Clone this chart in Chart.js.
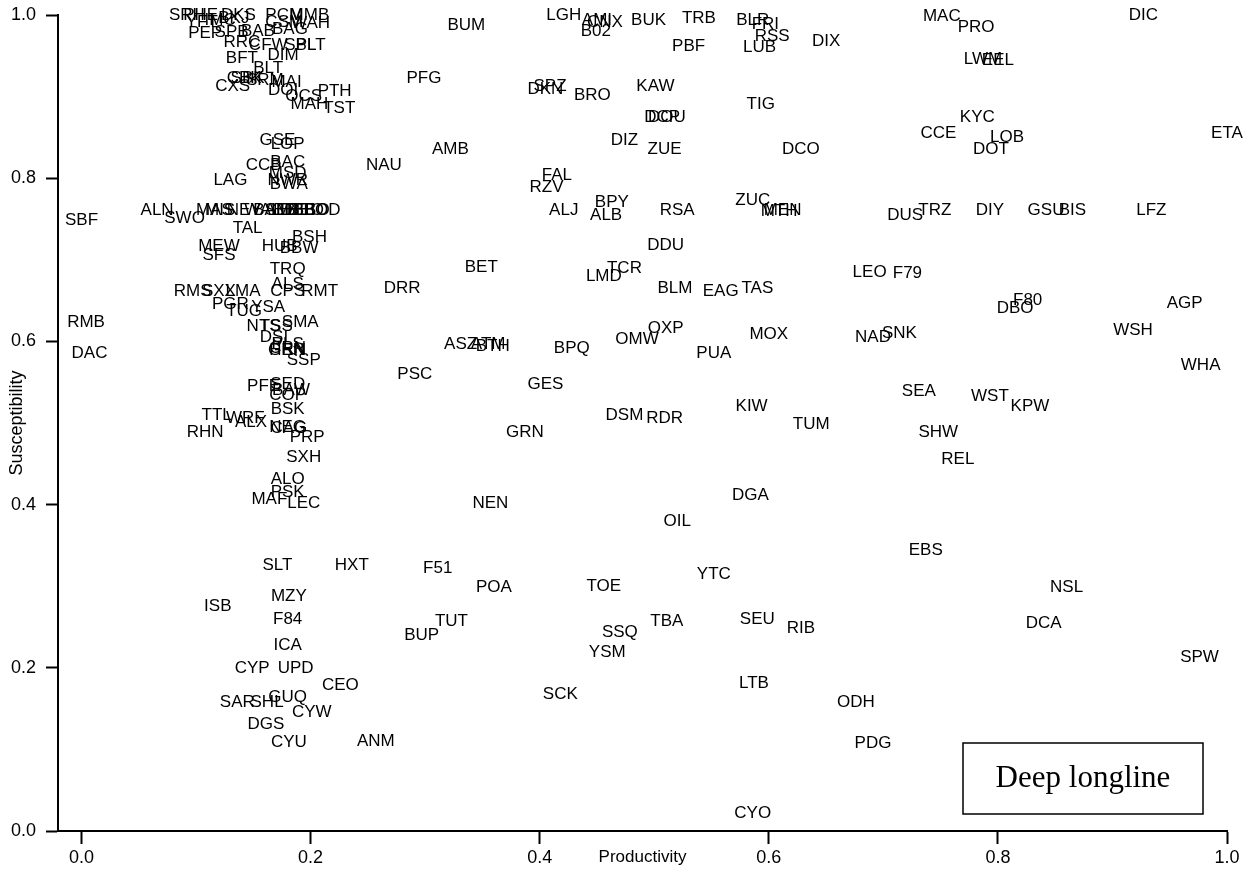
<!DOCTYPE html>
<html>
<head>
<meta charset="utf-8">
<script src="https://cdn.jsdelivr.net/npm/chart.js@4.4.1/dist/chart.umd.min.js"></script>
<style>
  html, body { margin: 0; padding: 0; background: #fff; }
  #wrap { width: 1246px; height: 880px; }
</style>
</head>
<body>
<div id="wrap"><canvas id="psa" width="1246" height="880"></canvas></div>
<script>
// stock codes, productivity (x) and susceptibility (y) - same order in all three
const stockCodes = [
    "SRH", "PHE", "DKS", "PCM", "MMB", "YFT", "IMC", "BKJ", "CSM", "WAH",
    "PEP", "SPB", "BAB", "BAG", "RRC", "CFW", "SBL", "PLT", "BFT", "DIM",
    "BLT", "CBK", "SBK", "SRM", "MAI", "CXS", "DOI", "OCS", "PTH", "MAH",
    "TST", "GSE", "LOP", "CCB", "BAC", "MSD", "NWR", "BWA", "LAG", "ALN",
    "SWO", "MAS", "MIS", "NEY", "WAL", "BAM", "SEB", "BBE", "DBE", "BEO",
    "EBO", "BOD", "TAL", "BSH", "MEW", "HUB", "BBW", "SFS", "SBF", "TRQ",
    "ALS", "RMS", "SXX", "LMA", "CPS", "RMT", "PGR", "YSA", "TUG", "SMA",
    "NTS", "TSS", "DSI", "PLS", "GEN", "HRN", "CRN", "SSP", "RMB", "DAC",
    "PFE", "SED", "BAW", "COP", "BSK", "TTL", "WRF", "ALX", "RHN", "NEG",
    "CAG", "PRP", "SXH", "ALO", "PSK", "MAF", "LEC", "SLT", "HXT", "F51",
    "POA", "TOE", "YTC", "MZY", "ISB", "F84", "TUT", "BUP", "TBA", "SSQ",
    "YSM", "ICA", "CYP", "UPD", "CEO", "SCK", "GUQ", "SAR", "SHL", "CYW",
    "DGS", "CYU", "ANM", "LGH", "AMI", "CNX", "B02", "BUK", "TRB", "BLR",
    "FRI", "RSS", "LUB", "PBF", "DIX", "MAC", "PRO", "DIC", "LWM", "EEL",
    "BUM", "PFG", "DKN", "SPZ", "BRO", "KAW", "TIG", "DCP", "DOU", "KYC",
    "CCE", "LOB", "DOT", "ETA", "DIZ", "ZUE", "DCO", "AMB", "NAU", "FAL",
    "RZV", "BPY", "ALJ", "ALB", "RSA", "ZUC", "MEN", "MTH", "DUS", "TRZ",
    "DIY", "GSU", "BIS", "LFZ", "DDU", "BET", "TCR", "LMD", "DRR", "BLM",
    "EAG", "TAS", "LEO", "F79", "OXP", "OMW", "MOX", "ASZ", "ATM", "BTH",
    "BPQ", "PUA", "PSC", "GES", "KIW", "DSM", "RDR", "GRN", "TUM", "NAD",
    "SNK", "F80", "DBO", "AGP", "WSH", "WHA", "SEA", "WST", "KPW", "SHW",
    "REL", "DGA", "OIL", "NEN", "EBS", "NSL", "DCA", "SPW", "CYO", "PDG",
    "ODH", "LTB", "RIB", "SEU"
];

const productivity = [
    0.092, 0.104, 0.137, 0.177, 0.199, 0.105, 0.121, 0.133, 0.177, 0.200,
    0.108, 0.131, 0.154, 0.182, 0.140, 0.163, 0.191, 0.200, 0.140, 0.176,
    0.163, 0.142, 0.145, 0.160, 0.179, 0.132, 0.176, 0.194, 0.221, 0.199,
    0.225, 0.171, 0.180, 0.159, 0.180, 0.180, 0.180, 0.181, 0.130, 0.066,
    0.090, 0.116, 0.121, 0.142, 0.158, 0.166, 0.175, 0.182, 0.189, 0.196,
    0.201, 0.210, 0.145, 0.199, 0.120, 0.173, 0.190, 0.120, 0.000, 0.180,
    0.180, 0.097, 0.120, 0.141, 0.180, 0.208, 0.130, 0.163, 0.142, 0.191,
    0.159, 0.170, 0.168, 0.180, 0.179, 0.180, 0.180, 0.194, 0.004, 0.007,
    0.159, 0.180, 0.183, 0.180, 0.180, 0.118, 0.143, 0.148, 0.108, 0.180,
    0.181, 0.197, 0.194, 0.180, 0.180, 0.164, 0.194, 0.171, 0.236, 0.311,
    0.360, 0.456, 0.552, 0.181, 0.119, 0.180, 0.323, 0.297, 0.511, 0.470,
    0.459, 0.180, 0.149, 0.187, 0.226, 0.418, 0.180, 0.136, 0.162, 0.201,
    0.161, 0.181, 0.257, 0.421, 0.450, 0.457, 0.449, 0.495, 0.539, 0.586,
    0.597, 0.603, 0.592, 0.530, 0.650, 0.751, 0.781, 0.927, 0.787, 0.800,
    0.336, 0.299, 0.405, 0.409, 0.446, 0.501, 0.593, 0.507, 0.511, 0.782,
    0.748, 0.808, 0.794, 1.000, 0.474, 0.509, 0.628, 0.322, 0.264, 0.415,
    0.406, 0.463, 0.421, 0.458, 0.520, 0.586, 0.612, 0.609, 0.719, 0.745,
    0.793, 0.842, 0.865, 0.934, 0.510, 0.349, 0.474, 0.456, 0.280, 0.518,
    0.558, 0.590, 0.688, 0.721, 0.510, 0.485, 0.600, 0.331, 0.355, 0.359,
    0.428, 0.552, 0.291, 0.405, 0.585, 0.474, 0.509, 0.387, 0.637, 0.691,
    0.714, 0.826, 0.815, 0.963, 0.918, 0.977, 0.731, 0.793, 0.828, 0.748,
    0.765, 0.584, 0.520, 0.357, 0.737, 0.860, 0.840, 0.976, 0.586, 0.691,
    0.676, 0.587, 0.628, 0.590
];

const susceptibility = [
    1.000, 1.000, 1.000, 1.000, 1.000, 0.991, 0.994, 0.996, 0.991, 0.990,
    0.978, 0.979, 0.980, 0.983, 0.967, 0.963, 0.963, 0.963, 0.947, 0.951,
    0.935, 0.923, 0.923, 0.920, 0.918, 0.913, 0.908, 0.900, 0.906, 0.890,
    0.886, 0.847, 0.841, 0.816, 0.819, 0.806, 0.798, 0.792, 0.798, 0.761,
    0.751, 0.761, 0.761, 0.761, 0.761, 0.761, 0.761, 0.761, 0.761, 0.761,
    0.761, 0.761, 0.739, 0.728, 0.716, 0.716, 0.714, 0.705, 0.748, 0.688,
    0.670, 0.661, 0.661, 0.661, 0.661, 0.661, 0.645, 0.642, 0.637, 0.624,
    0.618, 0.618, 0.605, 0.596, 0.589, 0.589, 0.591, 0.577, 0.624, 0.585,
    0.545, 0.547, 0.540, 0.534, 0.517, 0.510, 0.506, 0.501, 0.489, 0.495,
    0.494, 0.483, 0.458, 0.431, 0.415, 0.406, 0.402, 0.325, 0.325, 0.322,
    0.299, 0.300, 0.315, 0.287, 0.275, 0.259, 0.257, 0.240, 0.257, 0.244,
    0.219, 0.227, 0.199, 0.199, 0.178, 0.168, 0.164, 0.158, 0.158, 0.146,
    0.131, 0.109, 0.110, 1.000, 0.994, 0.991, 0.980, 0.993, 0.996, 0.993,
    0.989, 0.974, 0.960, 0.962, 0.968, 0.999, 0.985, 1.000, 0.946, 0.945,
    0.987, 0.922, 0.909, 0.913, 0.902, 0.913, 0.891, 0.875, 0.875, 0.875,
    0.855, 0.850, 0.835, 0.855, 0.846, 0.836, 0.836, 0.836, 0.816, 0.803,
    0.789, 0.771, 0.761, 0.755, 0.761, 0.773, 0.761, 0.759, 0.754, 0.761,
    0.761, 0.761, 0.761, 0.761, 0.718, 0.691, 0.690, 0.680, 0.665, 0.665,
    0.661, 0.665, 0.685, 0.684, 0.616, 0.602, 0.609, 0.597, 0.597, 0.594,
    0.591, 0.586, 0.560, 0.547, 0.520, 0.509, 0.506, 0.488, 0.499, 0.605,
    0.610, 0.650, 0.641, 0.647, 0.614, 0.571, 0.539, 0.533, 0.521, 0.489,
    0.455, 0.411, 0.380, 0.401, 0.344, 0.299, 0.254, 0.213, 0.022, 0.107,
    0.158, 0.181, 0.249, 0.259
];

const xTickValues = [0, 0.2, 0.4, 0.6, 0.8, 1.0];
const yTickValues = [0, 0.2, 0.4, 0.6, 0.8, 1.0];
const panelTitle = "Deep longline";

const sansFont = '"Liberation Sans", Arial, sans-serif';
Chart.defaults.font.family = sansFont;
Chart.defaults.color = "#000";

// draws each stock code centred on its point
const codeLabels = {
    id: "codeLabels",
    afterDatasetsDraw(chart) {
        const ctx = chart.ctx;
        const meta = chart.getDatasetMeta(0);
        ctx.save();
        ctx.font = "17px " + sansFont;
        ctx.fillStyle = "#000";
        ctx.textAlign = "center";
        ctx.textBaseline = "middle";
        meta.data.forEach((pt, i) => ctx.fillText(stockCodes[i], pt.x, pt.y));
        ctx.restore();
    }
};

// boxed gear name, bottom right
const panelBox = {
    id: "panelBox",
    afterDraw(chart) {
        const { ctx, chartArea } = chart;
        const w = 240, h = 71;
        const x = chartArea.right - 264, y = chartArea.bottom - 88;
        ctx.save();
        ctx.strokeStyle = "#000";
        ctx.lineWidth = 1.5;
        ctx.strokeRect(x, y, w, h);
        ctx.font = '31px "Liberation Serif", "Times New Roman", serif';
        ctx.fillStyle = "#000";
        ctx.textAlign = "center";
        ctx.textBaseline = "middle";
        ctx.fillText(panelTitle, x + w / 2, y + h / 2);
        ctx.restore();
    }
};

new Chart(document.getElementById("psa"), {
    type: "scatter",
    data: {
        datasets: [{
            data: productivity.map((p, i) => ({ x: p, y: susceptibility[i] })),
            pointRadius: 0,
            pointHoverRadius: 0
        }]
    },
    options: {
        responsive: false,
        animation: false,
        layout: { padding: { top: 15, right: 19, left: 0, bottom: 0 } },
        plugins: {
            legend: { display: false },
            tooltip: { enabled: false }
        },
        scales: {
            x: {
                type: "linear",
                min: -0.0205,
                max: 1.0,
                afterBuildTicks: s => { s.ticks = xTickValues.map(v => ({ value: v })); },
                afterFit: s => { s.height = 49; },
                border: { color: "#000", width: 2 },
                grid: { drawOnChartArea: false, drawTicks: true, tickLength: 13, tickColor: "#000", tickWidth: 2 },
                ticks: {
                    padding: 3,
                    maxRotation: 0,
                    autoSkip: false,
                    font: { size: 18 },
                    callback: v => Number(v).toFixed(1)
                },
                title: { display: true, text: "Productivity", font: { size: 17 }, padding: { top: 0, bottom: 12 } }
            },
            y: {
                type: "linear",
                min: 0,
                max: 1.0,
                afterBuildTicks: s => { s.ticks = yTickValues.map(v => ({ value: v })); },
                afterFit: s => {
                    s.width = 58;
                    s.paddingTop = 0;   // keep the plot top at 15px
                    s.paddingBottom = 0;
                },
                border: { color: "#000", width: 2 },
                grid: { drawOnChartArea: false, drawTicks: true, tickLength: 12, tickColor: "#000", tickWidth: 2 },
                ticks: {
                    padding: 10,
                    font: { size: 18 },
                    callback: v => Number(v).toFixed(1)
                },
                title: { display: true, text: "Susceptibility", font: { size: 18 }, padding: { top: 6, bottom: 0 } }
            }
        }
    },
    plugins: [codeLabels, panelBox]
});
</script>
</body>
</html>
